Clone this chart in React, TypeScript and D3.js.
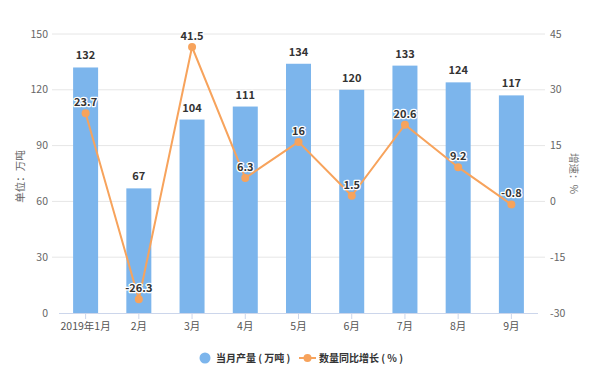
import React from "react";
import * as d3 from "d3";

const categories = ["2019年1月", "2月", "3月", "4月", "5月", "6月", "7月", "8月", "9月"];
const output = [132, 67, 104, 111, 134, 120, 133, 124, 117];
const growth = [23.7, -26.3, 41.5, 6.3, 16, 1.5, 20.6, 9.2, -0.8];
const leftTicks = [0, 30, 60, 90, 120, 150];
const rightTicks = [-30, -15, 0, 15, 30, 45];

const W = 600, H = 387;
const L = 59, R = 538, T = 34, B = 313;
const FONT = "'Noto Sans CJK SC', 'Noto Sans', sans-serif";
const BAR = "#7cb5ec";
const LINE = "#f7a35c";

export default function App() {
  const x = d3.scaleBand<string>().domain(categories).range([L, R]);
  const yL = d3.scaleLinear().domain([0, 150]).range([B, T]);
  const yR = d3.scaleLinear().domain([-30, 45]).range([B, T]);
  const bw = 25;
  const cx = (c: string) => (x(c) as number) + x.bandwidth() / 2;
  const line = d3.line<number>().x((_, i) => cx(categories[i])).y((d) => yR(d));

  const outlined = { stroke: "#fff", strokeWidth: 2.5, paintOrder: "stroke" as const, strokeLinejoin: "round" as const };

  return (
    <svg width={W} height={H} style={{ position: "absolute", left: 0, top: 0, fontFamily: FONT }}>
      <rect width={W} height={H} fill="#fff" />
      {leftTicks.map((t) => (
        <g key={t}>
          {t !== 0 && <line x1={52} x2={545} y1={yL(t)} y2={yL(t)} stroke="#e6e6e6" strokeWidth={1} />}
          <text x={48} y={yL(t)} dy="0.35em" textAnchor="end" fontSize={10.5} fill="#666">{t}</text>
        </g>
      ))}
      {rightTicks.map((t) => (
        <text key={t} x={550} y={yR(t)} dy="0.35em" textAnchor="start" fontSize={10.5} fill="#666">{t}</text>
      ))}
      <line x1={L} x2={R} y1={B + 0.5} y2={B + 0.5} stroke="#ccd6eb" strokeWidth={1} />
      {categories.map((c) => (
        <g key={c}>
          <line x1={cx(c)} x2={cx(c)} y1={B} y2={B + 6} stroke="#ccd6eb" />
          <text x={cx(c)} y={B + 17} textAnchor="middle" fontSize={10.5} fill="#555">{c}</text>
        </g>
      ))}
      <text transform={`translate(24,${(T + B) / 2 + 3}) rotate(-90)`} textAnchor="middle" fontSize={10.5} fill="#666">单位：万吨</text>
      <text transform={`translate(570,${(T + B) / 2}) rotate(90)`} textAnchor="middle" fontSize={10.5} fill="#777">增速：%</text>
      {output.map((v, i) => (
        <rect key={i} x={cx(categories[i]) - bw / 2} y={yL(v)} width={bw} height={B - yL(v)} fill={BAR} />
      ))}
      {output.map((v, i) => (
        <text key={i} x={cx(categories[i])} y={yL(v) - 8} textAnchor="middle" fontSize={11} fontWeight="bold" fill="#333" {...outlined}>{v}</text>
      ))}
      <path d={line(growth) as string} fill="none" stroke={LINE} strokeWidth={2} />
      {growth.map((v, i) => (
        <circle key={i} cx={cx(categories[i])} cy={yR(v)} r={4} fill={LINE} />
      ))}
      {growth.map((v, i) => (
        <text key={i} x={cx(categories[i])} y={yR(v) - 7} textAnchor="middle" fontSize={11} fontWeight="bold" fill="#333" {...outlined}>{v}</text>
      ))}
      <g fontSize={10} fontWeight="bold" fill="#333">
        <circle cx={205} cy={358} r={5.5} fill={BAR} />
        <text x={216} y={358} dy="0.35em">当月产量 ( 万吨 )</text>
        <line x1={299} x2={316} y1={358} y2={358} stroke={LINE} strokeWidth={2} />
        <circle cx={307.5} cy={358} r={4} fill={LINE} />
        <text x={319} y={358} dy="0.35em">数量同比增长 ( % )</text>
      </g>
    </svg>
  );
}
